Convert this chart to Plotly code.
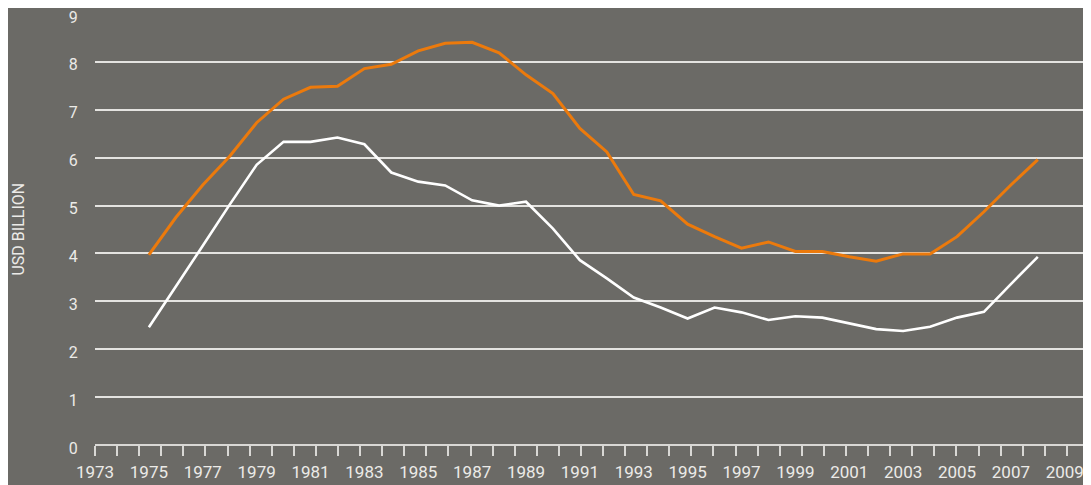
import plotly.graph_objects as go

# ---- data ----
years = list(range(1975, 2009))

orange_vals = [3.97, 4.75, 5.43, 6.03, 6.73, 7.22, 7.47, 7.49, 7.86, 7.95,
               8.23, 8.39, 8.41, 8.19, 7.73, 7.34, 6.61, 6.12, 5.23, 5.10,
               4.61, 4.35, 4.11, 4.24, 4.04, 4.04, 3.93, 3.84, 3.99, 3.99,
               4.35, 4.87, 5.43, 5.96]

white_vals = [2.46, 3.30, 4.16, 5.02, 5.85, 6.33, 6.33, 6.42, 6.28, 5.69,
              5.50, 5.42, 5.11, 5.00, 5.08, 4.52, 3.86, 3.48, 3.08, 2.87,
              2.64, 2.87, 2.77, 2.61, 2.69, 2.66, 2.54, 2.42, 2.38, 2.47,
              2.66, 2.78, 3.36, 3.93]

y_title = "USD BILLION"

BG = "#6b6a66"
GRID = "#e4e3e0"
TXT = "#ecebe8"
AXIS = "#d9d8d5"
ORANGE = "#ec7a0c"
FONT = "Roboto, 'Open Sans', sans-serif"

fig = go.Figure()
fig.add_trace(go.Scatter(x=years, y=white_vals, mode="lines",
                         line=dict(color="#ffffff", width=2.6), showlegend=False))
fig.add_trace(go.Scatter(x=years, y=orange_vals, mode="lines",
                         line=dict(color=ORANGE, width=3), showlegend=False))

x_range = [1973, 2009.9]

# the page body has an 8px default margin, so the figure is a bit smaller
fig.update_layout(
    width=1083, height=477,
    paper_bgcolor=BG, plot_bgcolor=BG,
    margin=dict(l=87, r=2, t=6, b=40),
    font=dict(family=FONT, color=TXT, size=17),
    xaxis=dict(
        range=x_range, tick0=1973, dtick=2, tickformat="d",
        ticks="outside", ticklen=12, tickcolor="rgba(0,0,0,0)",
        minor=dict(tick0=1973.0001, dtick=(x_range[1] - x_range[0]) / 45,
                   ticks="outside", ticklen=10, tickwidth=1.5, tickcolor=AXIS,
                   showgrid=False),
        showgrid=False, zeroline=False, showline=False, automargin=False,
        tickfont=dict(size=17, color=TXT),
    ),
    yaxis=dict(
        range=[0, 9], dtick=1, showgrid=True, gridcolor=GRID, gridwidth=1.5,
        zeroline=True, zerolinecolor=AXIS, zerolinewidth=2, showline=False,
        ticks="outside", ticklen=13, tickcolor="rgba(0,0,0,0)",
        ticklabeloverflow="allow", ticklabelshift=3, automargin=False,
        tickfont=dict(size=16, color=TXT),
    ),
    annotations=[dict(
        text=y_title, xref="paper", yref="paper",
        x=-77 / 994, y=0.5, xanchor="center", yanchor="middle",
        textangle=-90, showarrow=False,
        font=dict(family=FONT, size=16, color=TXT),
    )],
)

fig.write_html("out.html")
